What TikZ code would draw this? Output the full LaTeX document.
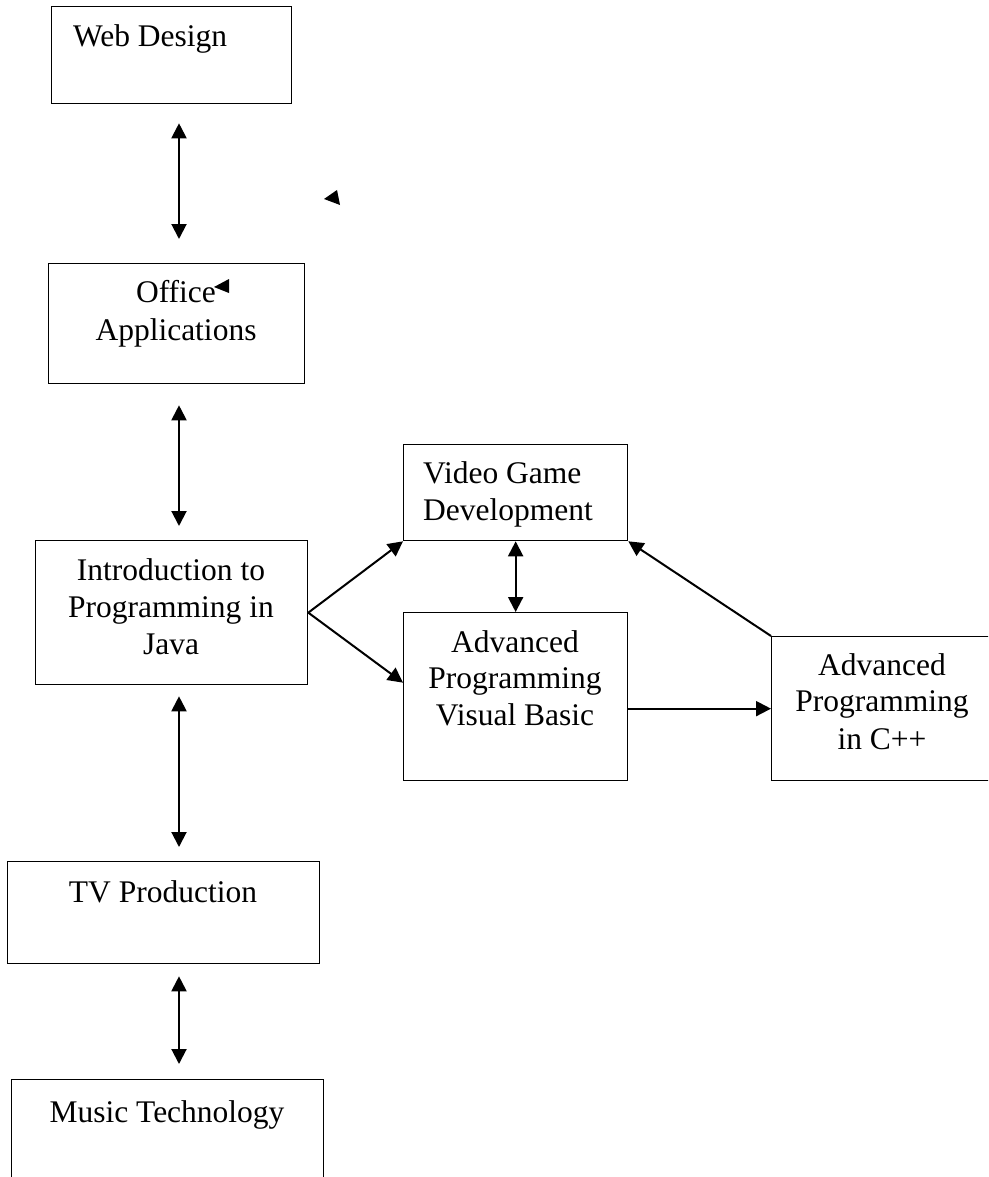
\documentclass[tikz,border=0pt]{standalone}
\usepackage{fontspec}
\setmainfont{Liberation Serif}
\usetikzlibrary{arrows.meta}
\tikzset{
  box/.style={draw=black, line width=1.3pt, rectangle, inner sep=0pt, anchor=north west},
  txt/.style={inner sep=0pt, font=\fontsize{31.5}{37}\selectfont, text=black},
  conn/.style={line width=2pt, draw=black},
  tipone/.style={conn, -{Triangle[length=15pt,width=15pt]}},
  tiptwo/.style={conn, {Triangle[length=15pt,width=15pt]}-{Triangle[length=15pt,width=15pt]}},
}
\begin{document}
\begin{tikzpicture}[x=1pt, y=-1pt]
\useasboundingbox (0,0) rectangle (988,1177);
\clip (0,0) rectangle (988,1177);
% boxes
\node[box, minimum width=240pt, minimum height=97pt] (web) at (51,6) {};
\node[box, minimum width=256pt, minimum height=120pt] (office) at (48,263) {};
\node[box, minimum width=272pt, minimum height=144pt] (java) at (35,540) {};
\node[box, minimum width=224pt, minimum height=96pt] (vgd) at (403,444) {};
\node[box, minimum width=224pt, minimum height=168pt] (apvb) at (403,612) {};
\node[box, minimum width=222pt, minimum height=144pt] (cpp) at (771,636) {};
\node[box, minimum width=312pt, minimum height=102pt] (tv) at (7,861) {};
\node[box, minimum width=312pt, minimum height=130pt] (music) at (11,1079) {};
% texts
\node[txt, anchor=base west] (webT) at (73,47) {Web Design};
\node[txt, anchor=base] (officeT1) at (176,302) {Office};
\node[txt, anchor=base] (officeT2) at (176,340) {Applications};
\node[txt, anchor=base] (javaT1) at (171,580) {Introduction to};
\node[txt, anchor=base] (javaT2) at (171,617) {Programming in};
\node[txt, anchor=base] (javaT3) at (171,654) {Java};
\node[txt, anchor=base west] (vgdT1) at (423,483) {Video Game};
\node[txt, anchor=base west] (vgdT2) at (423,520) {Development};
\node[txt, anchor=base] (apvbT1) at (515,652) {Advanced};
\node[txt, anchor=base] (apvbT2) at (515,688) {Programming};
\node[txt, anchor=base] (apvbT3) at (515,725) {Visual Basic};
\node[txt, anchor=base] (cppT1) at (882,675) {Advanced};
\node[txt, anchor=base] (cppT2) at (882,711) {Programming};
\node[txt, anchor=base] (cppT3) at (882,749) {in C++};
\node[txt, anchor=base] (tvT) at (163,902) {TV Production};
\node[txt, anchor=base] (musicT) at (167,1122) {Music Technology};
% vertical double arrows
\coordinate (ax) at (179,0);
\draw[tiptwo] ([yshift=-19pt]web.south -| ax) -- ([yshift=24pt]office.north -| ax);
\draw[tiptwo] ([yshift=-21pt]office.south -| ax) -- ([yshift=14pt]java.north -| ax);
\draw[tiptwo] ([yshift=-11pt]java.south -| ax) -- ([yshift=14pt]tv.north -| ax);
\draw[tiptwo] ([yshift=-12pt]tv.south -| ax) -- ([yshift=15pt]music.north -| ax);
% right part
\draw[tipone] (java.east) -- (vgd.south west);
\draw[tipone] (java.east) -- ([yshift=14pt]apvb.west);
\draw[tiptwo] (vgd.south) -- (apvb.north);
\draw[tipone] ([yshift=-12pt]apvb.east) -- (cpp.west);
\draw[tipone] (cpp.north west) -- (vgd.south east);
% stray arrowheads
\fill[black] (324,199) -- (337,190) -- (340,205) -- cycle;
\fill[black] (214,287) -- (229,279) -- (229,293) -- cycle;
\end{tikzpicture}
\end{document}
